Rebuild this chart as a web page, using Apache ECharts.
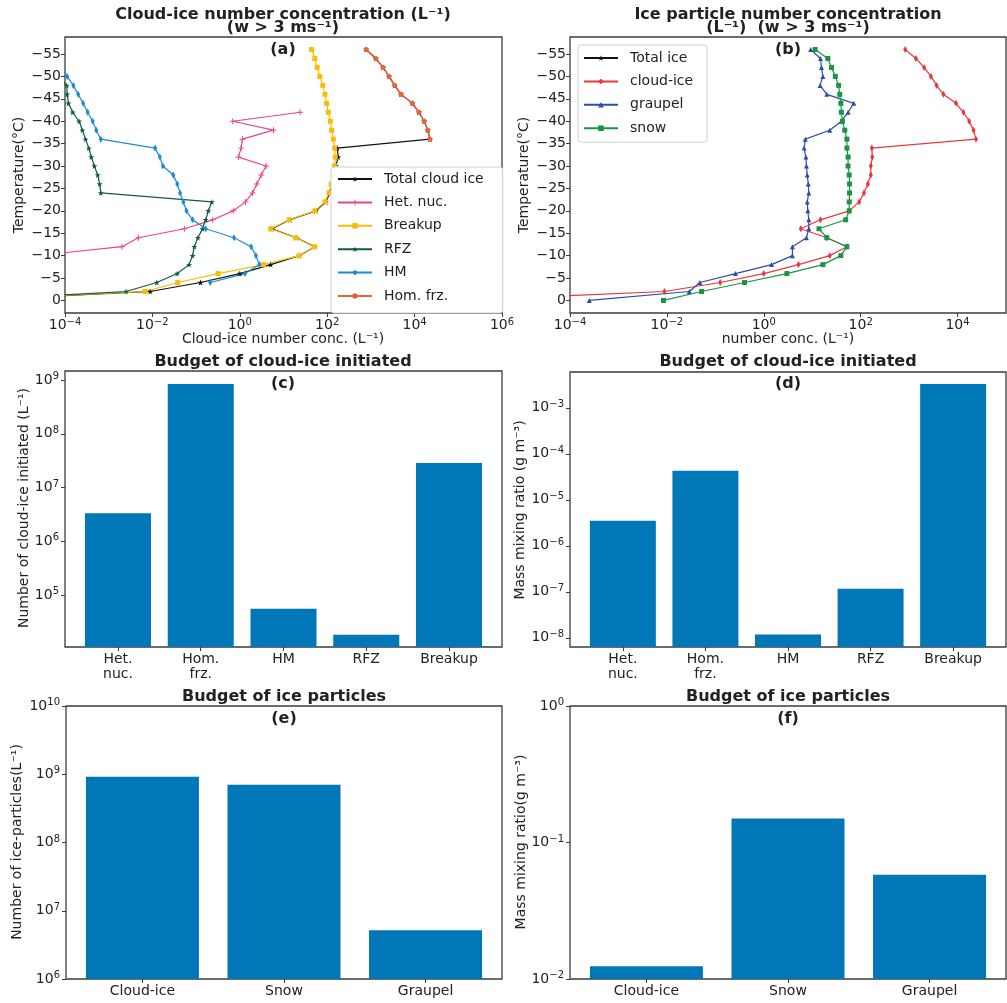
<!DOCTYPE html>
<html>
<head>
<meta charset="utf-8">
<script src="https://cdn.jsdelivr.net/npm/echarts@6/dist/echarts.min.js"></script>
<style>
  html, body { margin: 0; padding: 0; background: #fff; }
  #chart { width: 1007px; height: 1003px; }
</style>
</head>
<body>
<div id="chart"></div>
<script>
// temperature levels (deg C), one value per level in each profile below
let temps = [-56,-54,-52,-50,-48,-46,-44,-42,-40,-38,-36,-34,-32,-30,-28,-26,-24,-22,-20,-18,-16,-14,-12,-10,-8,-6,-4,-2,0];

// (a) cloud-ice number concentration by source (L^-1)
let totalCloudIce = [780,1300,1900,2600,3500,4900,8900,12600,16600,20000,22400,170,178,158,145,129,115,93,55,14,5.4,19.5,52,23,5.1,1.0,0.126,0.0089,5e-7];
let hetNuc = [null,null,null,null,null,null,null,24,0.69,5.9,1.15,1.07,0.93,4.0,3.1,2.45,1.95,1.35,0.71,0.24,0.054,0.0048,0.002,2.2e-5,null,null,null,null,null];
let breakup = [44,52,59,68,79,89,97,106,118,126,138,148,153,146,138,123,110,89,52,13.5,5.1,19,51,23,3.5,0.32,0.038,0.0068,5e-7];
let rfz = [null,null,null,7e-5,1.1e-4,1.12e-4,1.2e-4,1.5e-4,2.1e-4,2.5e-4,2.95e-4,3.5e-4,4.0e-4,4.7e-4,5.6e-4,6.2e-4,6.6e-4,0.23,0.19,0.166,0.14,0.11,0.091,0.083,0.069,0.037,0.0126,0.0025,5e-7];
let hm = [null,null,8e-5,1.12e-4,1.55e-4,2.0e-4,2.6e-4,3.3e-4,4.3e-4,5.2e-4,6.6e-4,0.0115,0.0148,0.0174,0.030,0.037,0.043,0.051,0.060,0.083,0.166,0.74,1.82,2.34,2.8,1.32,0.21,null,null];
let homFrz = [780,1300,1900,2600,3500,4900,8900,12600,16600,20000,22400,null,null,null,null,null,null,null,null,null,null,null,null,null,null,null,null,null,null];

// (b) ice particle number concentration (L^-1)
let totalIce = [];
let cloudIce = [830,1380,2040,2820,3700,5100,9300,13200,17400,21400,24000,170,174,162,162,141,117,93,58,14.8,5.8,20,52,23,5.2,1.0,0.126,0.0089,5e-7];
let graupel = [9.3,14.8,15.5,16.6,14.5,20,72,55,40,23,7.2,6.8,7.4,7.6,7.9,8.3,8.5,7.9,8.1,8.5,8.5,7.6,3.9,3.9,1.45,0.26,0.048,0.029,2.5e-4];
let snow = [11.5,21,25,30,35,37,39,40,42,47,52,52,55,55,58,59,59,58,58,49,13.8,20,52,39,16.6,3.0,0.40,0.052,0.0085];

// (c)(d) budget of cloud-ice initiated
let initCats = ['Het.\nnuc.', 'Hom.\nfrz.', 'HM', 'RFZ', 'Breakup'];
let initNumber = [3.3e6, 8.5e8, 5.5e4, 1.8e4, 2.85e7];
let initMass = [3.5e-6, 4.3e-5, 1.18e-8, 1.17e-7, 3.3e-3];

// (e)(f) budget of ice particles
let iceCats = ['Cloud-ice', 'Snow', 'Graupel'];
let iceNumber = [9.2e8, 7.0e8, 5.2e6];
let iceMass = [0.0124, 0.150, 0.058];

// tick values
let tempTicks = [-55,-50,-45,-40,-35,-30,-25,-20,-15,-10,-5,0];
let concTicksA = [1e-4,1e-2,1,1e2,1e4,1e6];
let concTicksB = [1e-4,1e-2,1,1e2,1e4];
let initNumberTicks = [1e5,1e6,1e7,1e8,1e9];
let initMassTicks = [1e-8,1e-7,1e-6,1e-5,1e-4,1e-3];
let iceNumberTicks = [1e6,1e7,1e8,1e9,1e10];
let iceMassTicks = [1e-2,1e-1,1];

const FONT = 'DejaVu Sans';
const INK = '#222';
const EDGE = '#3c3c3c';

function pow10Label(v) {
  let e = Math.round(Math.log10(v));
  return '{b|10}{s|' + String(e).replace('-', '−') + '}';
}
let powRich = {
  b: {fontFamily: FONT, fontSize: 14, color: INK},
  s: {fontFamily: FONT, fontSize: 10, color: INK, verticalAlign: 'bottom', padding: [0, 0, 7, 0]}
};
function profile(vals) {
  let out = [];
  vals.forEach((v, i) => { if (v != null) out.push([v, temps[i]]); });
  return out;
}

let grids = [
  {left: 65, top: 37, width: 437, height: 276},
  {left: 570, top: 37, width: 436, height: 276},
  {left: 65, top: 371, width: 437, height: 276},
  {left: 570, top: 372, width: 436, height: 275},
  {left: 66, top: 706, width: 436, height: 273},
  {left: 570, top: 706, width: 436, height: 273}
].map(g => Object.assign(g, {show: true, borderColor: EDGE, borderWidth: 1.3, containLabel: false}));

let labelStyle = {fontFamily: FONT, fontSize: 14, color: INK};
function logAxis(idx, min, max, ticks, margin) {
  return {
    type: 'log', logBase: 10, gridIndex: idx, min: min, max: max,
    axisLine: {show: false, onZero: false},
    axisTick: {show: true, length: 4, customValues: ticks, lineStyle: {color: EDGE}},
    axisLabel: {customValues: ticks, margin: margin, formatter: pow10Label, rich: powRich},
    splitLine: {show: false}, minorTick: {show: false}
  };
}
function tempAxis(idx) {
  return {
    type: 'value', gridIndex: idx, inverse: true, min: -58.8, max: 2.8,
    axisLine: {show: false, onZero: false},
    axisTick: {show: true, length: 4, customValues: tempTicks, lineStyle: {color: EDGE}},
    axisLabel: Object.assign({customValues: tempTicks, margin: 4, formatter: v => String(v).replace('-', '−')}, labelStyle),
    splitLine: {show: false}
  };
}
function catAxis(idx, cats, lo, hi) {
  let pos = cats.map((c, i) => i);
  return {
    type: 'value', gridIndex: idx, min: lo, max: hi,
    axisLine: {show: false, onZero: false},
    axisTick: {show: true, length: 4, customValues: pos, lineStyle: {color: EDGE}},
    axisLabel: Object.assign({customValues: pos, margin: 5, lineHeight: 15, formatter: v => cats[Math.round(v)] || ''}, labelStyle),
    splitLine: {show: false}
  };
}

let xAxes = [
  logAxis(0, 1e-4, 1e6, concTicksA, 4),
  logAxis(1, 1e-4, 1e5, concTicksB, 4),
  catAxis(2, initCats, -0.64, 4.64),
  catAxis(3, initCats, -0.64, 4.64),
  catAxis(4, iceCats, -0.54, 2.54),
  catAxis(5, iceCats, -0.54, 2.54)
];
let yAxes = [
  tempAxis(0),
  tempAxis(1),
  logAxis(2, 10700, 1.48e9, initNumberTicks, 6),
  logAxis(3, 6.3e-9, 6.0e-3, initMassTicks, 6),
  logAxis(4, 1e6, 1e10, iceNumberTicks, 6),
  logAxis(5, 1e-2, 1, iceMassTicks, 6)
];

const STAR = 'path://M5,0L6.2,3.6L10,3.6L7,5.9L8.1,9.5L5,7.3L1.9,9.5L3,5.9L0,3.6L3.8,3.6Z';
const PLUS = 'path://M4.2,0H5.8V4.2H10V5.8H5.8V10H4.2V5.8H0V4.2H4.2Z';

function lineSeries(name, vals, idx, color, symbol, size) {
  return {
    name: name, type: 'line', xAxisIndex: idx, yAxisIndex: idx,
    data: profile(vals), color: color, symbol: symbol, symbolSize: size,
    showAllSymbol: true, clip: true, animation: false,
    lineStyle: {width: 1.2, color: color}, itemStyle: {color: color}
  };
}
// bars on a log axis drawn from the bottom of the axis up to the value
function barSeries(vals, idx, width, base) {
  return {
    type: 'custom', xAxisIndex: idx, yAxisIndex: idx, clip: true, animation: false,
    data: vals.map((v, i) => [i, v]),
    renderItem: function (params, api) {
      let top = api.coord([api.value(0), api.value(1)]);
      let bottom = api.coord([api.value(0), base]);
      return {
        type: 'rect',
        shape: {x: top[0] - width / 2, y: top[1], width: width, height: bottom[1] - top[1]},
        style: {fill: '#0077b7'}
      };
    }
  };
}

let series = [
  lineSeries('Total cloud ice', totalCloudIce, 0, '#111111', STAR, 6),
  lineSeries('Het. nuc.', hetNuc, 0, '#e7468c', PLUS, 6),
  lineSeries('Breakup', breakup, 0, '#fbbc05', 'rect', 5),
  lineSeries('RFZ', rfz, 0, '#0f5b46', STAR, 6),
  lineSeries('HM', hm, 0, '#1a8bd4', 'diamond', [4, 7]),
  lineSeries('Hom. frz.', homFrz, 0, '#e8653a', 'circle', 5),
  lineSeries('Total ice', totalIce, 1, '#111111', STAR, 6),
  lineSeries('cloud-ice', cloudIce, 1, '#e8383d', 'diamond', [4, 7]),
  lineSeries('graupel', graupel, 1, '#2b4ea6', 'triangle', 5),
  lineSeries('snow', snow, 1, '#1a9447', 'rect', 5),
  barSeries(initNumber, 2, 66, 10700),
  barSeries(initMass, 3, 66, 6.3e-9),
  barSeries(iceNumber, 4, 113, 1e6),
  barSeries(iceMass, 5, 113, 1e-2)
];

function legendBox(names, left, top, padding) {
  return {
    data: names, orient: 'vertical', left: left, top: top,
    padding: padding, itemWidth: 34, itemHeight: 7, itemGap: 7.4,
    backgroundColor: '#fff', borderColor: '#d0d0d0', borderWidth: 1, borderRadius: 3,
    textStyle: {fontFamily: FONT, fontSize: 14, color: INK, lineHeight: 16, padding: [0, 0, 0, 7]},
    selectedMode: false
  };
}

function txt(text, x, y, opts) {
  opts = opts || {};
  return {
    type: 'text', x: x, y: y, rotation: opts.rotation || 0, silent: true,
    style: {
      text: text, fill: INK, align: 'center', verticalAlign: opts.va || 'middle',
      font: (opts.weight || 'normal') + ' ' + (opts.size || 14) + 'px "DejaVu Sans"',
      lineHeight: opts.lh
    }
  };
}
let bold = {weight: 'bold', size: 16};
let up = {rotation: Math.PI / 2};

let texts = [
  txt('Cloud-ice number concentration (L⁻¹)\n(w > 3 ms⁻¹)', 283, 8, {weight: 'bold', size: 16, va: 'top', lh: 13}),
  txt('Ice particle number concentration\n(L⁻¹)  (w > 3 ms⁻¹)', 788, 8, {weight: 'bold', size: 16, va: 'top', lh: 13}),
  txt('(a)', 283, 50, bold), txt('(b)', 788, 50, bold),
  txt('Budget of cloud-ice initiated', 283, 362, bold), txt('Budget of cloud-ice initiated', 788, 362, bold),
  txt('(c)', 283, 384, bold), txt('(d)', 788, 384, bold),
  txt('Budget of ice particles', 284, 697, bold), txt('Budget of ice particles', 788, 697, bold),
  txt('(e)', 284, 719, bold), txt('(f)', 788, 719, bold),
  txt('Cloud-ice number conc. (L⁻¹)', 283, 339), txt('number conc. (L⁻¹)', 788, 339),
  txt('Temperature(°C)', 19, 175, up), txt('Temperature(°C)', 524, 175, up),
  txt('Number of cloud-ice initiated (L⁻¹)', 24, 508, up),
  txt('Mass mixing ratio (g m⁻³)', 520, 510, up),
  txt('Number of ice-particles(L⁻¹)', 17, 842, up),
  txt('Mass mixing ratio(g m⁻³)', 521, 842, up)
];

let chart = echarts.init(document.getElementById('chart'), null, {renderer: 'canvas'});
chart.setOption({
  backgroundColor: '#fff',
  animation: false,
  textStyle: {fontFamily: FONT},
  grid: grids,
  xAxis: xAxes,
  yAxis: yAxes,
  legend: [
    legendBox(['Total cloud ice', 'Het. nuc.', 'Breakup', 'RFZ', 'HM', 'Hom. frz.'], 331, 167, [4, 19, 9, 6]),
    legendBox(['Total ice', 'cloud-ice', 'graupel', 'snow'], 578, 45, [5, 14, 6, 5])
  ],
  series: series,
  graphic: texts
});
</script>
</body>
</html>
